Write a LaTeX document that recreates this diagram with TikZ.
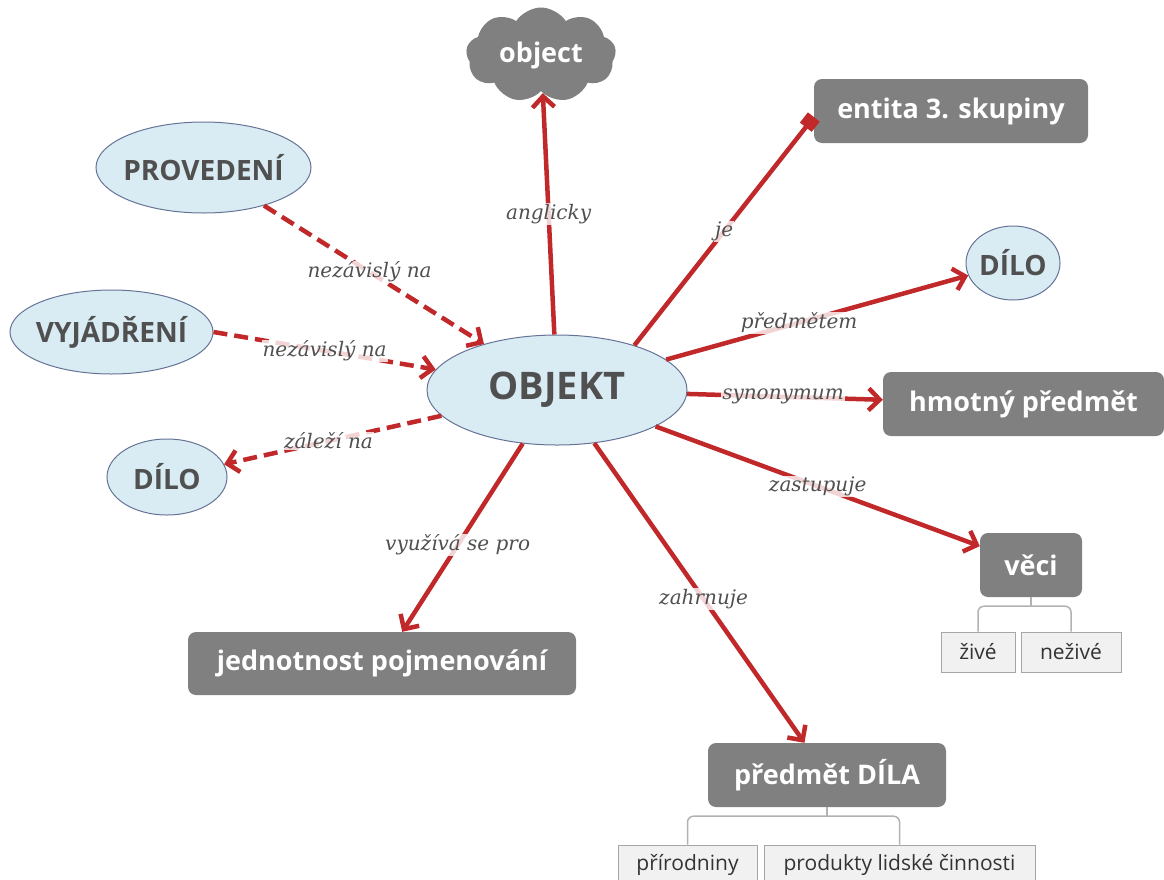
\documentclass[tikz,border=0pt]{standalone}
\usepackage{fontspec}
\newfontfamily\labelfont{Open Sans}
\newfontfamily\linkfont{DejaVu Serif}
\usetikzlibrary{shapes.geometric,shapes.symbols,arrows.meta}
\definecolor{linkred}{RGB}{192,40,42}
\definecolor{bluefill}{RGB}{218,236,243}
\definecolor{blueline}{RGB}{90,110,160}
\definecolor{boxgray}{RGB}{128,128,128}
\definecolor{textdark}{RGB}{80,80,80}
\definecolor{leafgray}{RGB}{241,241,241}
\begin{document}
\begin{tikzpicture}[x=1pt,y=-1pt,
  concept/.style={ellipse,draw=blueline!70!gray,line width=1pt,fill=bluefill,
    text=textdark,font=\labelfont\bfseries\fontsize{28}{32}\selectfont,
    inner xsep=-14pt,inner ysep=0pt},
  graybox/.style={rectangle,rounded corners=8pt,fill=boxgray,text=white,
    font=\labelfont\bfseries\fontsize{27}{31}\selectfont,inner sep=0pt},
  leaf/.style={rectangle,draw=gray!70,line width=1pt,fill=leafgray,text=black!80,
    font=\labelfont\fontsize{21}{24}\selectfont,inner sep=0pt},
  link/.style={draw=linkred,line width=4.5pt},
  tip/.style={-{Straight Barb[length=11pt,width=22pt]}},
  dashlink/.style={link,dash pattern=on 14pt off 7pt},
  lbl/.style={fill=white,fill opacity=0.8,text opacity=1,text=textdark,
    font=\linkfont\itshape\fontsize{20}{23}\selectfont,inner sep=1pt},
  tree/.style={draw=gray!60,line width=1.5pt,rounded corners=6pt}]
\useasboundingbox (0,0) rectangle (1164,879);

% central concept
\node[concept,minimum width=260,minimum height=110,
  font=\labelfont\bfseries\fontsize{38}{42}\selectfont] (obj) at (557,390) {OBJEKT};

% surrounding concepts
\node[cloud,cloud puffs=9,cloud puff arc=115,aspect=1.6,fill=boxgray,text=white,
  minimum width=150,minimum height=95,inner sep=0pt,
  font=\labelfont\bfseries\fontsize{27}{31}\selectfont] (eng) at (541,55) {object};
\node[graybox,minimum width=274,minimum height=64] (ent) at (951,111) {entita 3. skupiny};
\node[concept,minimum width=94,minimum height=74] (dilor) at (1013,263) {DÍLO};
\node[graybox,minimum width=281,minimum height=64] (hmot) at (1023.5,404) {hmotný předmět};
\node[graybox,minimum width=102,minimum height=64] (veci) at (1031,565) {věci};
\node[leaf,minimum width=74,minimum height=40] (zive) at (978,652) {živé};
\node[leaf,minimum width=100,minimum height=40] (nezive) at (1071,652) {neživé};
\node[graybox,minimum width=238,minimum height=64] (pdila) at (827,775) {předmět DÍLA};
\node[leaf,minimum width=139,minimum height=40] (prir) at (687.5,865) {přírodniny};
\node[leaf,minimum width=271,minimum height=40] (prod) at (899.5,865) {produkty lidské činnosti};
\node[graybox,minimum width=388,minimum height=63] (jedn) at (382,663.5) {jednotnost pojmenování};
\node[concept,minimum width=215,minimum height=91] (prov) at (203.5,167.5) {PROVEDENÍ};
\node[concept,minimum width=203,minimum height=84] (vyj) at (111.5,332) {VYJÁDŘENÍ};
\node[concept,minimum width=120,minimum height=76] (dilol) at (167,477) {DÍLO};

% outgoing links
\draw[link,tip] (obj) -- node[lbl,pos=0.5] (l1) {anglicky} (eng);
\draw[link,-{Square[length=13pt,width=15pt]}] (obj.30) -- node[lbl,pos=0.5] (l2) {je} ([yshift=-6]ent.west);
\draw[link,tip] (obj) -- node[lbl,pos=0.44] (l3) {předmětem} (dilor);
\draw[link,tip] (obj) -- node[lbl,pos=0.49] (l4) {synonymum} (hmot);
\draw[link,tip] (obj) -- node[lbl,pos=0.5] (l5) {zastupuje} (veci);
\draw[link,tip] (obj) -- node[lbl,pos=0.52] (l6) {zahrnuje} (pdila);
\draw[link,tip] (obj) -- node[lbl,pos=0.54] (l7) {využívá se pro} (jedn);

% dashed links
\draw[dashlink,tip] (prov) -- node[lbl,pos=0.48] (l8) {nezávislý na} (obj);
\draw[dashlink,tip] (vyj.east) -- node[lbl,pos=0.5] (l9) {nezávislý na} (obj);
\draw[dashlink,tip] (obj) -- node[lbl,pos=0.52] (l10) {záleží na} (dilol);

% subdivision trees
\coordinate (vj) at ([yshift=-9]veci.south);
\draw[tree] (zive.north) |- (vj) -| (nezive.north);
\draw[tree,rounded corners=0pt] (veci.south) -- (vj);
\coordinate (pj) at ([yshift=-9]pdila.south);
\draw[tree] (prir.north) |- (pj) -| (prod.north);
\draw[tree,rounded corners=0pt] (pdila.south) -- (pj);
\end{tikzpicture}
\end{document}
